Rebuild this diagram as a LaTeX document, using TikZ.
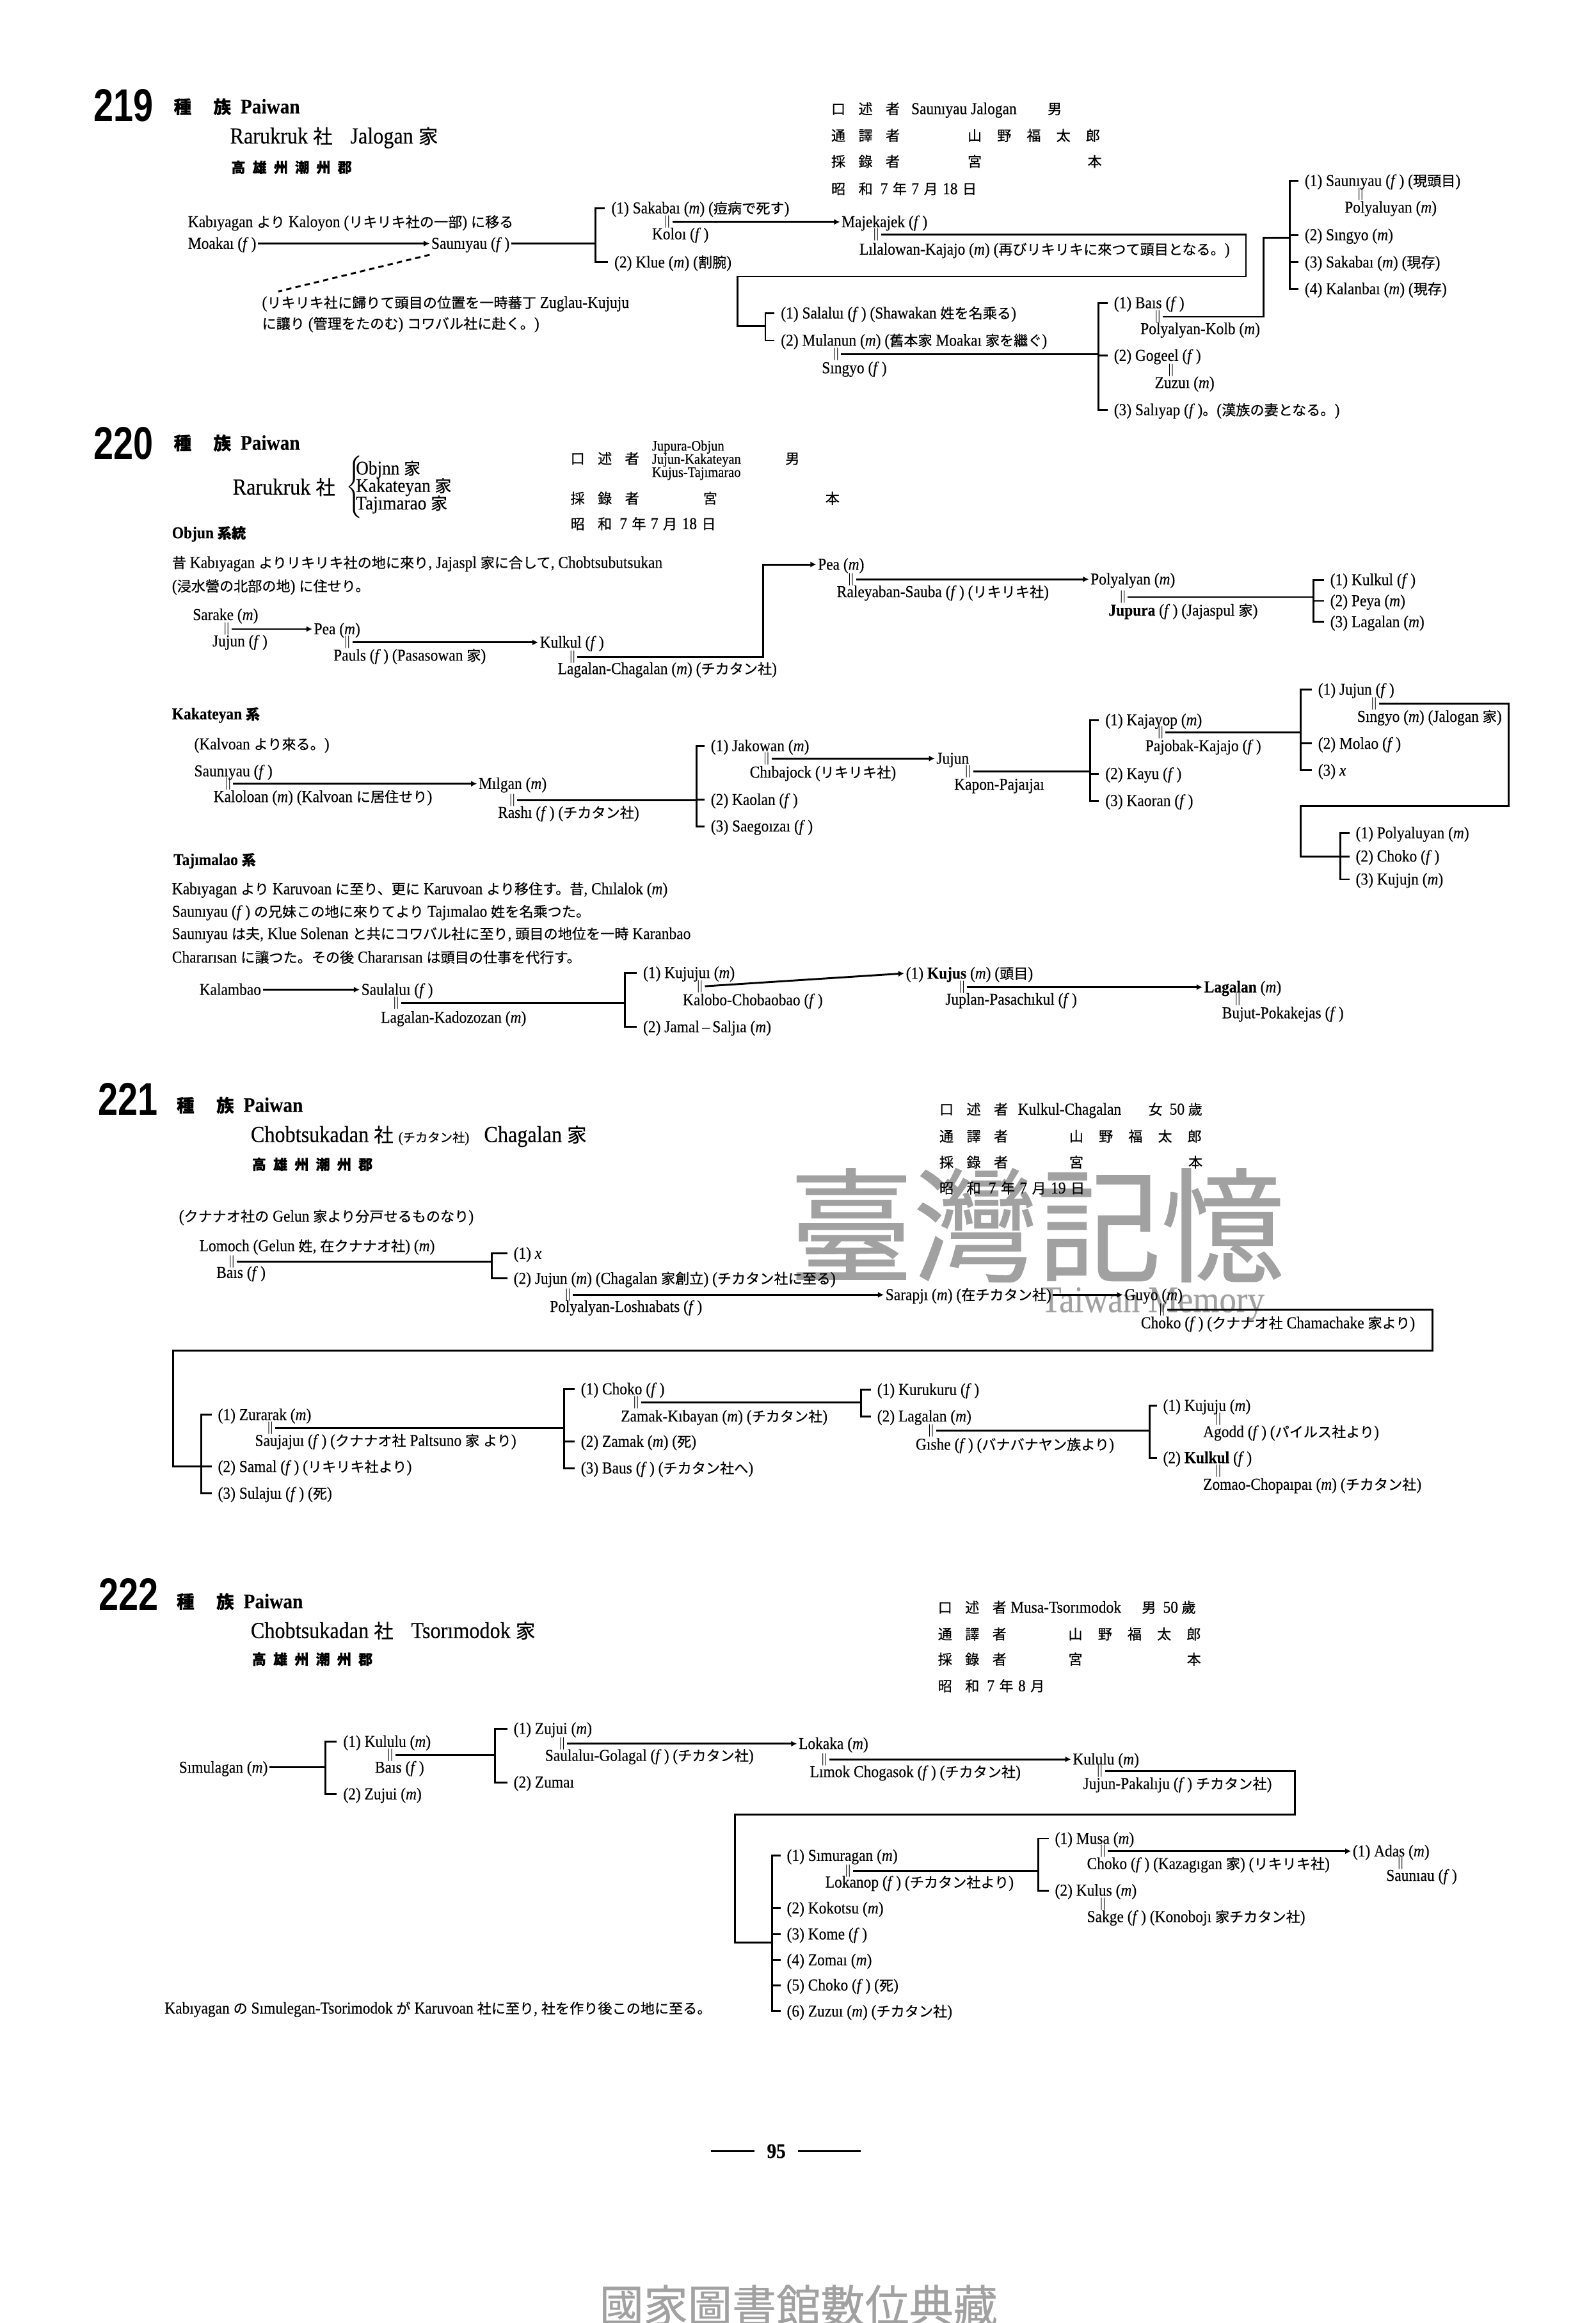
\documentclass[tikz,border=0pt]{standalone}
\usepackage{fontspec}
\setmainfont{Liberation Serif}[FakeStretch=0.9, FakeBold=0.3]
\newfontfamily\jafont{Noto Sans CJK JP}[Scale=0.85, FakeBold=0.5]
\newfontfamily\numfont{Liberation Sans}[FakeStretch=0.78]
\usepackage{tikz}
\usetikzlibrary{arrows.meta}
% kana and kanji are set in \jafont
\XeTeXinterchartokenstate=1
\newXeTeXintercharclass\jacls
\count255="3000 \loop\XeTeXcharclass\count255=\jacls \ifnum\count255<"30FF \advance\count255 by 1 \repeat
\count255="4E00 \loop\XeTeXcharclass\count255=\jacls \ifnum\count255<"9FFF \advance\count255 by 1 \repeat
\count255="FF00 \loop\XeTeXcharclass\count255=\jacls \ifnum\count255<"FFEF \advance\count255 by 1 \repeat
\XeTeXinterchartoks 0 \jacls = {\begingroup\jafont}
\XeTeXinterchartoks 4095 \jacls = {\begingroup\jafont}
\XeTeXinterchartoks \jacls 0 = {\endgroup}
\XeTeXinterchartoks \jacls 4095 = {\endgroup}
\newcommand{\Fe}{(\textit{f}\,)}
\newcommand{\Ma}{(\textit{m})}
\newcommand{\jgap}{\hspace{2.2mm}}
\newcommand{\kgap}{\hspace{2.6mm}}
\tikzset{
  pbox/.style={anchor=west, inner sep=0.6pt, font=\fontsize{8}{9}\selectfont, text height=1.55ex, text depth=.45ex},
  tbox/.style={pbox},
  tbold/.style={font=\fontsize{8}{9}\selectfont\bfseries},
  hdbox/.style={anchor=west, inner sep=0pt, font=\fontsize{10}{12}\selectfont\bfseries},
  sbox/.style={anchor=west, inner sep=0pt, font=\fontsize{11}{13}\selectfont},
  nbox/.style={anchor=west, inner sep=0pt, font=\numfont\bfseries\fontsize{22}{24}\selectfont},
  mk/.style={anchor=west, inner sep=0.3pt, font=\fontsize{6}{6}\selectfont},
  ln/.style={line width=0.9pt},
  lnto/.style={ln, -{Latex[length=1mm, width=1mm]}},
  tick/.style={ln, shorten >=0.8mm},
  brk/.style={ln, shorten <=0.8mm, shorten >=0.8mm},
  dsh/.style={line width=0.9pt, dash pattern=on 0.9mm off 0.7mm},
  wm/.style={text=black!37, inner sep=0pt}
}
\begin{document}
\begin{tikzpicture}[x=0.25mm, y=-0.25mm]
\fill[white] (0,0) rectangle (1077,1568);
\useasboundingbox (0,0) rectangle (1077,1568);
% watermarks
\node[wm, font=\fontsize{70}{72}\selectfont] (wm1) at (700,827) {臺灣記憶};
\node[wm, font=\fontsize{18}{20}\selectfont] (wm2) at (778,880) {Taiwan Memory};
\node[wm, font=\fontsize{25}{27}\selectfont] (wm3) at (539,1556) {國家圖書館數位典藏};

% ---------- 219
\node[nbox] (an) at (63,71) {219};
\node[hdbox] (ah) at (117,72) {種\hspace{3.7mm}族\hspace{1.6mm}Paiwan};
\node[sbox] (as) at (155,93) {Rarukruk 社\hspace{3mm}Jalogan 家};
\node[tbox, tbold] (aloc) at (155,113) {高\hspace{1.2mm}雄\hspace{1.2mm}州\hspace{1.2mm}潮\hspace{1.2mm}州\hspace{1.2mm}郡};
\node[tbox] (ai1) at (560,73.5) {口\jgap 述\jgap 者};
\node[tbox] (ain) at (614,73.5) {Saunıyau Jalogan};
\node[tbox] (ais) at (706,73.5) {男};
\node[tbox] (ai2) at (560,91.5) {通\jgap 譯\jgap 者};
\node[tbox] (ait) at (652,91.5) {山\kgap 野\kgap 福\kgap 太\kgap 郎};
\node[tbox] (ai3) at (560,109) {採\jgap 錄\jgap 者};
\node[tbox] (air) at (652,109) {宮};
\node[tbox] (air2) at (733,109) {本};
\node[tbox] (ai4) at (560,127.5) {昭\jgap 和\hspace{1.3mm}7\hspace{0.8mm}年\hspace{0.8mm}7\hspace{0.8mm}月\hspace{0.8mm}18\hspace{0.8mm}日};

\node[tbox] (akab) at (125.8,149.8) {Kabıyagan より Kaloyon (リキリキ社の一部) に移る};
\node[pbox] (amoa) at (125.8,164.4) {Moakaı \Fe};
\node[pbox] (asau) at (290,164.4) {Saunıyau \Fe};
\draw[lnto] (amoa.east) -- (asau.west);
\coordinate (aj1) at (402,164.4);
\draw[ln] (asau.east) -- (aj1);
\node[pbox] (asak) at (411.6,140.5) {(1) Sakabaı \Ma\ (痘病で死す)};
\node[mk] (ak1) at (447,149.8) {$\|$};
\node[pbox] (akol) at (439,158) {Koloı \Fe};
\node[pbox] (aklu) at (413.6,177) {(2) Klue \Ma\ (割腕)};
\draw[brk] (asak.west) -- (asak.west -| aj1) -- (aklu.west -| aj1) -- (aklu.west);
\node[pbox] (amaj) at (567,149.8) {Majekajek \Fe};
\draw[lnto] (ak1.east) -- (amaj.west);
\node[mk] (ak2) at (588,158.3) {$\|$};
\node[pbox] (alil) at (579,168.3) {Lılalowan-Kajajo \Ma\ (再びリキリキに來つて頭目となる。)};
\coordinate (ac1) at (841,186.6); \coordinate (ac2) at (498,186.6);
\coordinate (aj2) at (516.6,220);
\draw[ln] (ak2.east) -| (ac1) -- (ac2) |- (aj2);
\node[pbox] (asal) at (526,211.4) {(1) Salaluı \Fe\ (Shawakan 姓を名乘る)};
\node[pbox] (amul) at (526,229.8) {(2) Mulanun \Ma\ (舊本家 Moakaı 家を繼ぐ)};
\draw[brk] (asal.west) -- (asal.west -| aj2) -- (amul.west -| aj2) -- (amul.west);
\node[mk] (ak3) at (561,239.2) {$\|$};
\node[pbox] (asin) at (553.6,248.4) {Sıngyo \Fe};
\coordinate (aj3) at (741.4,239.2);
\draw[ln] (ak3.east) -- (aj3);
\node[pbox] (abai) at (750.8,204.5) {(1) Baıs \Fe};
\node[mk] (ak4) at (778,213.8) {$\|$};
\node[pbox] (apol) at (768.7,222) {Polyalyan-Kolb \Ma};
\node[pbox] (agog) at (750.8,240) {(2) Gogeel \Fe};
\node[mk] (ak5) at (787,250) {$\|$};
\node[pbox] (azuz) at (778.4,258.4) {Zuzuı \Ma};
\node[pbox] (asly) at (750.8,276.7) {(3) Salıyap \Fe。(漢族の妻となる。)};
\draw[brk] (abai.west) -- (abai.west -| aj3) -- (asly.west -| aj3) -- (asly.west);
\draw[tick] (agog.west -| aj3) -- (agog.west);
\coordinate (ac3) at (853,160.6);
\coordinate (aj4) at (870.5,160.6);
\draw[ln] (ak4.east) -| (ac3) -- (aj4);
\node[pbox] (asau2) at (879.6,122) {(1) Saunıyau \Fe\ (現頭目)};
\node[mk] (ak6) at (915,131.3) {$\|$};
\node[pbox] (apoy) at (906.5,140) {Polyaluyan \Ma};
\node[pbox] (asin2) at (879.6,158.6) {(2) Sıngyo \Ma};
\node[pbox] (asak2) at (879.6,177) {(3) Sakabaı \Ma\ (現存)};
\node[pbox] (akal) at (879.6,195) {(4) Kalanbaı \Ma\ (現存)};
\draw[brk] (asau2.west) -- (asau2.west -| aj4) -- (akal.west -| aj4) -- (akal.west);
\draw[tick] (asin2.west -| aj4) -- (asin2.west); \draw[tick] (asak2.west -| aj4) -- (asak2.west);
\node[tbox] (anot1) at (175.8,204.3) {(リキリキ社に歸りて頭目の位置を一時蕃丁 Zuglau-Kujuju};
\node[tbox] (anot2) at (175.8,218.4) {に讓り (管理をたのむ) コワバル社に赴く。)};
\draw[dsh] (asau.south west) -- ([xshift=3mm]anot1.north west);

% ---------- 220
\node[nbox] (bn) at (63,299.2) {220};
\node[hdbox] (bh) at (117,299) {種\hspace{3.7mm}族\hspace{1.6mm}Paiwan};
\node[sbox] (bs) at (156.8,328.8) {Rarukruk 社};
\node[anchor=west, inner sep=0pt] (bbr) at (233,328.8) {$\left\{\vrule height 4.4mm depth 4.4mm width 0pt\right.$};
\node[sbox, font=\fontsize{9.3}{10}\selectfont] (bs1) at (240,317) {Objnn 家};
\node[sbox, font=\fontsize{9.3}{10}\selectfont] (bs2) at (240,328.8) {Kakateyan 家};
\node[sbox, font=\fontsize{9.3}{10}\selectfont] (bs3) at (240,340.6) {Tajımarao 家};
\node[tbox, font=\fontsize{7}{7}\selectfont] (bi0) at (439,300.6) {Jupura-Objun};
\node[tbox] (bi1) at (384,309.5) {口\jgap 述\jgap 者};
\node[tbox, font=\fontsize{7}{7}\selectfont] (bin) at (439,309.5) {Jujun-Kakateyan};
\node[tbox] (bis) at (529,309.5) {男};
\node[tbox, font=\fontsize{7}{7}\selectfont] (bin2) at (439,318.4) {Kujus-Tajımarao};
\node[tbox] (bi3) at (384,336.4) {採\jgap 錄\jgap 者};
\node[tbox] (bir) at (473.5,336.4) {宮};
\node[tbox] (bir2) at (556,336.4) {本};
\node[tbox] (bi4) at (384,353.6) {昭\jgap 和\hspace{1.3mm}7\hspace{0.8mm}年\hspace{0.8mm}7\hspace{0.8mm}月\hspace{0.8mm}18\hspace{0.8mm}日};

\node[tbox, tbold] (bt1) at (115,359.8) {Objun 系統};
\node[tbox] (bp1) at (115,379.8) {昔 Kabıyagan よりリキリキ社の地に來り, Jajaspl 家に合して, Chobtsubutsukan};
\node[tbox] (bp2) at (115,395.6) {(浸水營の北部の地) に住せり。};
\node[pbox] (bsar) at (129,415) {Sarake \Ma};
\node[mk] (bk1) at (149.6,424.6) {$\|$};
\node[pbox] (bju) at (142.3,432.8) {Jujun \Fe};
\node[pbox] (bpea) at (210.8,424.6) {Pea \Ma};
\draw[lnto] (bk1.east) -- (bpea.west);
\node[mk] (bk2) at (231,433.6) {$\|$};
\node[pbox] (bpau) at (224,442.4) {Pauls \Fe\ (Pasasowan 家)};
\node[pbox] (bkul) at (363.3,433.6) {Kulkul \Fe};
\draw[lnto] (bk2.east) -- (bkul.west);
\node[mk] (bk3) at (383,443.5) {$\|$};
\node[pbox] (blag) at (375.4,451.4) {Lagalan-Chagalan \Ma\ (チカタン社)};
\coordinate (bc1) at (515,381);
\node[pbox] (bpea2) at (551,381) {Pea \Ma};
\draw[lnto] (bk3.east) -| (bc1) -- (bpea2.west);
\node[mk] (bk4) at (571,391) {$\|$};
\node[pbox] (bral) at (563.8,399.5) {Raleyaban-Sauba \Fe\ (リキリキ社)};
\node[pbox] (bpol) at (735,391) {Polyalyan \Ma};
\draw[lnto] (bk4.east) -- (bpol.west);
\node[mk] (bk5) at (754.5,403) {$\|$};
\node[pbox] (bjup) at (747.2,412) {\textbf{Jupura} \Fe\ (Jajaspul 家)};
\coordinate (bj1) at (886.4,403);
\draw[ln] (bk5.east) -- (bj1);
\node[pbox] (bku1) at (896.8,391.4) {(1) Kulkul \Fe};
\node[pbox] (bpey) at (896.8,405.6) {(2) Peya \Ma};
\node[pbox] (blg1) at (896.8,419.8) {(3) Lagalan \Ma};
\draw[brk] (bku1.west) -- (bku1.west -| bj1) -- (blg1.west -| bj1) -- (blg1.west);
\draw[tick] (bpey.west -| bj1) -- (bpey.west);

\node[tbox, tbold] (bt2) at (115,482) {Kakateyan 系};
\node[tbox] (bp3) at (130,502.3) {(Kalvoan より來る。)};
\node[pbox] (bsau) at (130,520.5) {Saunıyau \Fe};
\node[mk] (bk6) at (150.6,529) {$\|$};
\node[pbox] (bkal) at (143,537.8) {Kaloloan \Ma\ (Kalvoan に居住せり)};
\node[pbox] (bmil) at (322,529) {Mılgan \Ma};
\draw[lnto] (bk6.east) -- (bmil.west);
\node[mk] (bk7) at (342.4,540.2) {$\|$};
\node[pbox] (bras) at (335,548.5) {Rashı \Fe\ (チカタン社)};
\coordinate (bj2) at (470,540.2);
\draw[ln] (bk7.east) -- (bj2);
\node[pbox] (bjak) at (478.7,503.5) {(1) Jakowan \Ma};
\node[mk] (bk8) at (514,512) {$\|$};
\node[pbox] (bchi) at (505,521.3) {Chıbajock (リキリキ社)};
\node[pbox] (bkao) at (478.7,539.8) {(2) Kaolan \Fe};
\node[pbox] (bsae) at (478.7,557.7) {(3) Saegoızaı \Fe};
\draw[brk] (bjak.west) -- (bjak.west -| bj2) -- (bsae.west -| bj2) -- (bsae.west);
\draw[tick] (bkao.west -| bj2) -- (bkao.west);
\node[pbox] (bjuj) at (631,512) {Jujun};
\draw[lnto] (bk8.east) -- (bjuj.west);
\node[mk] (bk9) at (650,520.7) {$\|$};
\node[pbox] (bkap) at (643,529.5) {Kapon-Pajaıjaı};
\coordinate (bj3) at (736,520.7);
\draw[ln] (bk9.east) -- (bj3);
\node[pbox] (bkaj) at (745,486) {(1) Kajayop \Ma};
\node[mk] (bk10) at (780,494.5) {$\|$};
\node[pbox] (bpaj) at (772,503.5) {Pajobak-Kajajo \Fe};
\node[pbox] (bkay) at (745,522.3) {(2) Kayu \Fe};
\node[pbox] (bkar) at (745,540.5) {(3) Kaoran \Fe};
\draw[brk] (bkaj.west) -- (bkaj.west -| bj3) -- (bkar.west -| bj3) -- (bkar.west);
\draw[tick] (bkay.west -| bj3) -- (bkay.west);
\coordinate (bj4) at (878,494.5);
\draw[ln] (bk10.east) -- (bj4);
\node[pbox] (bju2) at (888.6,465.4) {(1) Jujun \Fe};
\node[mk] (bk11) at (924,474.8) {$\|$};
\node[pbox] (bsin) at (915,483.7) {Sıngyo \Ma\ (Jalogan 家)};
\node[pbox] (bmol) at (888.6,501.9) {(2) Molao \Fe};
\node[pbox] (bx) at (888.6,520) {(3) \textit{x}};
\draw[brk] (bju2.west) -- (bju2.west -| bj4) -- (bx.west -| bj4) -- (bx.west);
\draw[tick] (bmol.west -| bj4) -- (bmol.west);
\coordinate (bc2) at (1018.4,544); \coordinate (bc3) at (878,544);
\coordinate (bj5) at (904.7,578);
\draw[ln] (bk11.east) -| (bc2) -- (bc3) |- (bj5);
\node[pbox] (bpoy) at (914,562.3) {(1) Polyaluyan \Ma};
\node[pbox] (bcho) at (914,578) {(2) Choko \Fe};
\node[pbox] (bkuj) at (914,593.5) {(3) Kujujn \Ma};
\draw[brk] (bpoy.west) -- (bpoy.west -| bj5) -- (bkuj.west -| bj5) -- (bkuj.west);
\draw[tick] (bcho.west -| bj5) -- (bcho.west);

\node[tbox, tbold] (bt3) at (116,580.4) {Tajımalao 系};
\node[tbox] (bp4) at (115,600) {Kabıyagan より Karuvoan に至り、更に Karuvoan より移住す。昔, Chılalok \Ma};
\node[tbox] (bp5) at (115,615.3) {Saunıyau \Fe\ の兄妹この地に來りてより Tajımalao 姓を名乘つた。};
\node[tbox] (bp6) at (115,630.3) {Saunıyau は夫, Klue Solenan と共にコワバル社に至り, 頭目の地位を一時 Karanbao};
\node[tbox] (bp7) at (115,646.2) {Chararısan に讓つた。その後 Chararısan は頭目の仕事を代行す。};
\node[pbox] (bkla) at (133.5,668) {Kalambao};
\node[pbox] (bsal) at (242.8,668) {Saulaluı \Fe};
\draw[lnto] (bkla.east) -- (bsal.west);
\node[mk] (bk12) at (264,677) {$\|$};
\node[pbox] (blgk) at (256,686.8) {Lagalan-Kadozozan \Ma};
\coordinate (bj6) at (422,677);
\draw[ln] (bk12.east) -- (bj6);
\node[pbox] (bkjj) at (433,656.6) {(1) Kujujuı \Ma};
\node[mk] (bk13) at (469,665.7) {$\|$};
\node[pbox] (bkob) at (459.8,675) {Kalobo-Chobaobao \Fe};
\node[pbox] (bjam) at (433,693.2) {(2) Jamal\,--\,Saljıa \Ma};
\draw[brk] (bkjj.west) -- (bkjj.west -| bj6) -- (bjam.west -| bj6) -- (bjam.west);
\node[pbox] (bkus) at (610.4,657) {(1) \textbf{Kujus} \Ma\ (頭目)};
\draw[lnto] (bk13.east) -- (bkus.west);
\node[mk] (bk14) at (646,666.3) {$\|$};
\node[pbox] (bjpl) at (637,674.6) {Juplan-Pasachıkul \Fe};
\node[pbox] (blg2) at (811.7,666.3) {\textbf{Lagalan} \Ma};
\draw[lnto] (bk14.east) -- (blg2.west);
\node[mk] (bk15) at (832,674.6) {$\|$};
\node[pbox] (bbuj) at (823.8,683.8) {Bujut-Pokakejas \Fe};

% ---------- 221
\node[nbox] (cn) at (66,742) {221};
\node[hdbox] (ch) at (119,746) {種\hspace{3.7mm}族\hspace{1.6mm}Paiwan};
\node[sbox] (cs) at (169,767) {Chobtsukadan 社 {\fontsize{7}{8}\selectfont (チカタン社)}\hspace{2.5mm}Chagalan 家};
\node[tbox, tbold] (cloc) at (169,786) {高\hspace{1.2mm}雄\hspace{1.2mm}州\hspace{1.2mm}潮\hspace{1.2mm}州\hspace{1.2mm}郡};
\node[tbox] (ci1) at (633,748.8) {口\jgap 述\jgap 者};
\node[tbox] (cin) at (686,748.8) {Kulkul-Chagalan};
\node[tbox] (cis) at (774,748.8) {女\hspace{1.2mm}50\hspace{0.6mm}歲};
\node[tbox] (ci2) at (633,767) {通\jgap 譯\jgap 者};
\node[tbox] (cit) at (720.6,767) {山\kgap 野\kgap 福\kgap 太\kgap 郎};
\node[tbox] (ci3) at (633,784.5) {採\jgap 錄\jgap 者};
\node[tbox] (cir) at (720.6,784.5) {宮};
\node[tbox] (cir2) at (801,784.5) {本};
\node[tbox] (ci4) at (633,802) {昭\jgap 和\hspace{1.3mm}7\hspace{0.8mm}年\hspace{0.8mm}7\hspace{0.8mm}月\hspace{0.8mm}19\hspace{0.8mm}日};

\node[tbox] (cp1) at (119.7,821) {(クナナオ社の Gelun 家より分戸せるものなり)};
\node[pbox] (clom) at (133.5,841) {Lomoch (Gelun 姓, 在クナナオ社) \Ma};
\node[mk] (ck1) at (153,851.5) {$\|$};
\node[pbox] (cbai) at (145,859) {Baıs \Fe};
\coordinate (cj1) at (332,851.5);
\draw[ln] (ck1.east) -- (cj1);
\node[pbox] (cx) at (345.6,846) {(1) \textit{x}};
\node[pbox] (cjuj) at (345.6,863) {(2) Jujun \Ma\ (Chagalan 家創立) (チカタン社に至る)};
\draw[brk] (cx.west) -- (cx.west -| cj1) -- (cjuj.west -| cj1) -- (cjuj.west);
\node[mk] (ck2) at (380,874) {$\|$};
\node[pbox] (cpol) at (370,882) {Polyalyan-Loshıabats \Fe};
\node[pbox] (csar) at (596.6,874) {Sarapjı \Ma\ (在チカタン社)};
\draw[lnto] (ck2.east) -- (csar.west);
\node[pbox] (cguy) at (758,874) {Guyo \Ma};
\draw[lnto] (csar.east) -- (cguy.west);
\node[mk] (ck3) at (781,884) {$\|$};
\node[pbox] (ccho) at (769,893) {Choko \Fe\ (クナナオ社 Chamachake 家より)};
\coordinate (cc1) at (967,911.6); \coordinate (cc2) at (117,911.6);
\coordinate (cj2) at (136,990);
\draw[ln] (ck3.east) -| (cc1) -- (cc2) |- (cj2);
\node[pbox] (czur) at (146,955) {(1) Zurarak \Ma};
\node[mk] (ck4) at (179,964) {$\|$};
\node[pbox] (csaj) at (171,972.4) {Saujajuı \Fe\ (クナナオ社 Paltsuno 家 より)};
\node[pbox] (csam) at (146,990) {(2) Samal \Fe\ (リキリキ社より)};
\node[pbox] (csul) at (146,1008) {(3) Sulajuı \Fe\ (死)};
\draw[brk] (czur.west) -- (czur.west -| cj2) -- (csul.west -| cj2) -- (csul.west);
\draw[tick] (csam.west -| cj2) -- (csam.west);
\coordinate (cj3) at (380.6,964);
\draw[ln] (ck4.east) -- (cj3);
\node[pbox] (ccho2) at (391,937.6) {(1) Choko \Fe};
\node[mk] (ck5) at (426,946.5) {$\|$};
\node[pbox] (czam) at (418,956) {Zamak-Kıbayan \Ma\ (チカタン社)};
\node[pbox] (czam2) at (391,973) {(2) Zamak \Ma\ (死)};
\node[pbox] (cbau) at (391,991) {(3) Baus \Fe\ (チカタン社へ)};
\draw[brk] (ccho2.west) -- (ccho2.west -| cj3) -- (cbau.west -| cj3) -- (cbau.west);
\draw[tick] (czam2.west -| cj3) -- (czam2.west);
\coordinate (cj4) at (581,946.5);
\draw[ln] (ck5.east) -- (cj4);
\node[pbox] (ckur) at (591,938) {(1) Kurukuru \Fe};
\node[pbox] (clag) at (591,956) {(2) Lagalan \Ma};
\draw[brk] (ckur.west) -- (ckur.west -| cj4) -- (clag.west -| cj4) -- (clag.west);
\node[mk] (ck6) at (625,965.5) {$\|$};
\node[pbox] (cgis) at (617,975) {Gıshe \Fe\ (バナバナヤン族より)};
\coordinate (cj5) at (776,965.5);
\draw[ln] (ck6.east) -- (cj5);
\node[pbox] (ckju) at (784,948.8) {(1) Kujuju \Ma};
\node[mk] (ck7) at (819,958) {$\|$};
\node[pbox] (cago) at (811,966.5) {Agodd \Fe\ (パイルス社より)};
\node[pbox] (ckul) at (784,984) {(2) \textbf{Kulkul} \Fe};
\node[mk] (ck8) at (819,993) {$\|$};
\node[pbox] (czom) at (811,1002) {Zomao-Chopaıpaı \Ma\ (チカタン社)};
\draw[brk] (ckju.west) -- (ckju.west -| cj5) -- (ckul.west -| cj5) -- (ckul.west);

% ---------- 222
\node[nbox] (dn) at (66.6,1076) {222};
\node[hdbox] (dh) at (119,1081) {種\hspace{3.7mm}族\hspace{1.6mm}Paiwan};
\node[sbox] (ds) at (169,1100.7) {Chobtsukadan 社\hspace{3mm}Tsorımodok 家};
\node[tbox, tbold] (dloc) at (169,1120) {高\hspace{1.2mm}雄\hspace{1.2mm}州\hspace{1.2mm}潮\hspace{1.2mm}州\hspace{1.2mm}郡};
\node[tbox] (di1) at (632,1085) {口\jgap 述\jgap 者};
\node[tbox] (din) at (681,1085) {Musa-Tsorımodok};
\node[tbox] (dis) at (769.6,1085) {男\hspace{1.2mm}50\hspace{0.6mm}歲};
\node[tbox] (di2) at (632,1103) {通\jgap 譯\jgap 者};
\node[tbox] (dit) at (720,1103) {山\kgap 野\kgap 福\kgap 太\kgap 郎};
\node[tbox] (di3) at (632,1120) {採\jgap 錄\jgap 者};
\node[tbox] (dir) at (720,1120) {宮};
\node[tbox] (dir2) at (800,1120) {本};
\node[tbox] (di4) at (632,1138) {昭\jgap 和\hspace{1.3mm}7\hspace{0.8mm}年\hspace{0.8mm}8\hspace{0.8mm}月};

\node[pbox] (dsim) at (119.7,1193) {Sımulagan \Ma};
\coordinate (dj1) at (219.6,1193);
\draw[ln] (dsim.east) -- (dj1);
\node[pbox] (dkul) at (230.6,1175.6) {(1) Kululu \Ma};
\node[mk] (dk1) at (260,1184.6) {$\|$};
\node[pbox] (dbai) at (252,1193) {Baıs \Fe};
\node[pbox] (dzuj) at (230.6,1211) {(2) Zujui \Ma};
\draw[brk] (dkul.west) -- (dkul.west -| dj1) -- (dzuj.west -| dj1) -- (dzuj.west);
\coordinate (dj2) at (334,1184.6);
\draw[ln] (dk1.east) -- (dj2);
\node[pbox] (dzu2) at (345.6,1166.8) {(1) Zujui \Ma};
\node[mk] (dk2) at (376,1177) {$\|$};
\node[pbox] (dsau) at (366.8,1185) {Saulaluı-Golagal \Fe\ (チカタン社)};
\node[pbox] (dzum) at (345.6,1203) {(2) Zumaı};
\draw[brk] (dzu2.west) -- (dzu2.west -| dj2) -- (dzum.west -| dj2) -- (dzum.west);
\node[pbox] (dlok) at (538,1177) {Lokaka \Ma};
\draw[lnto] (dk2.east) -- (dlok.west);
\node[mk] (dk3) at (553,1187.5) {$\|$};
\node[pbox] (dlim) at (545.6,1196) {Lımok Chogasok \Fe\ (チカタン社)};
\node[pbox] (dkl2) at (723,1187.5) {Kululu \Ma};
\draw[lnto] (dk3.east) -- (dkl2.west);
\node[mk] (dk4) at (739,1195.5) {$\|$};
\node[pbox] (djuj) at (730,1204) {Jujun-Pakalıju \Fe\ チカタン社)};
\coordinate (dc1) at (874,1224.6); \coordinate (dc2) at (496,1224.6);
\coordinate (dj3) at (521,1311);
\draw[ln] (dk4.east) -| (dc1) -- (dc2) |- (dj3);
\node[pbox] (dsmr) at (530,1252.5) {(1) Sımuragan \Ma};
\node[mk] (dk5) at (569,1262.7) {$\|$};
\node[pbox] (dlkn) at (556,1270.5) {Lokanop \Fe\ (チカタン社より)};
\node[pbox] (dkok) at (530,1288) {(2) Kokotsu \Ma};
\node[pbox] (dkom) at (530,1305.5) {(3) Kome \Fe};
\node[pbox] (dzom) at (530,1323) {(4) Zomaı \Ma};
\node[pbox] (dcho) at (530,1340) {(5) Choko \Fe\ (死)};
\node[pbox] (dzuz) at (530,1357.6) {(6) Zuzuı \Ma\ (チカタン社)};
\draw[brk] (dsmr.west) -- (dsmr.west -| dj3) -- (dzuz.west -| dj3) -- (dzuz.west);
\draw[tick] (dkok.west -| dj3) -- (dkok.west); \draw[tick] (dkom.west -| dj3) -- (dkom.west);
\draw[tick] (dzom.west -| dj3) -- (dzom.west); \draw[tick] (dcho.west -| dj3) -- (dcho.west);
\coordinate (dj4) at (701,1262.7);
\draw[ln] (dk5.east) -- (dj4);
\node[pbox] (dmus) at (711,1241) {(1) Musa \Ma};
\node[mk] (dk6) at (741,1249.5) {$\|$};
\node[pbox] (dch2) at (732.6,1258) {Choko \Fe\ (Kazagıgan 家) (リキリキ社)};
\node[pbox] (dkls) at (711,1276) {(2) Kulus \Ma};
\node[mk] (dk7) at (741,1285.5) {$\|$};
\node[pbox] (dsak) at (732.6,1293.8) {Sakge \Fe\ (Konobojı 家チカタン社)};
\draw[brk] (dmus.west) -- (dmus.west -| dj4) -- (dkls.west -| dj4) -- (dkls.west);
\node[pbox] (dada) at (912,1249.5) {(1) Adas \Ma};
\draw[lnto] (dk6.east) -- (dada.west);
\node[mk] (dk8) at (942,1257.6) {$\|$};
\node[pbox] (dsau2) at (934.6,1266) {Saunıau \Fe};
\node[tbox] (dnote) at (110,1355.6) {Kabıyagan の Sımulegan-Tsorimodok が Karuvoan 社に至り, 社を作り後この地に至る。};

% page number
\node[hdbox, anchor=center, inner sep=2mm] (pg) at (524,1452) {95};
\coordinate (pgl) at (480,1452); \coordinate (pgr) at (581,1452);
\draw[ln] (pgl) -- (pg.west); \draw[ln] (pg.east) -- (pgr);
\end{tikzpicture}
\end{document}
